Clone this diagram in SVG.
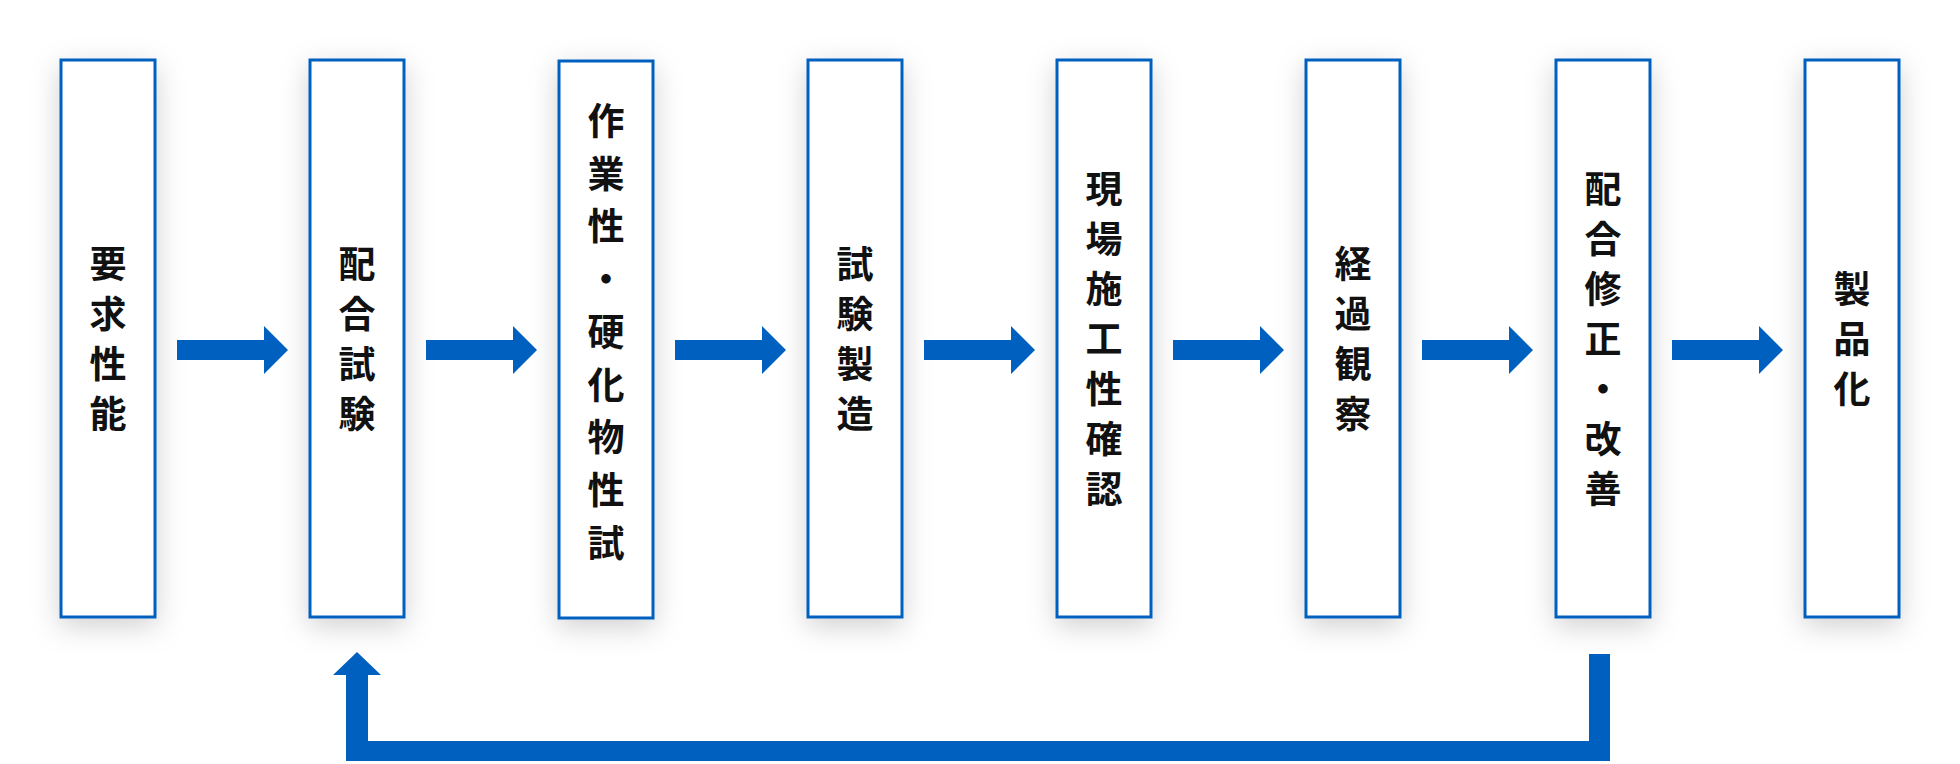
<svg xmlns="http://www.w3.org/2000/svg" width="1960" height="764" viewBox="0 0 1960 764">
<defs>
<filter id="sh" x="-50%" y="-20%" width="200%" height="140%"><feDropShadow dx="0" dy="8" stdDeviation="14" flood-color="#000" flood-opacity="0.18"/></filter>
<style>
.box{fill:#fff;stroke:#0060c0;stroke-width:3}
.t{font-family:"Noto Sans CJK JP","Noto Sans",sans-serif;font-size:37px;font-weight:700;fill:#111;text-anchor:middle;dominant-baseline:central}
.a{fill:#0060c0}
</style>
</defs>
<rect width="1960" height="764" fill="#fff"/>
<g id="n1"><rect class="box" filter="url(#sh)" x="61" y="60" width="94" height="557"/><text class="t"><tspan x="108" y="262">要</tspan><tspan x="108" y="312">求</tspan><tspan x="108" y="362">性</tspan><tspan x="108" y="412">能</tspan></text></g>
<g id="n2"><rect class="box" filter="url(#sh)" x="310" y="60" width="94" height="557"/><text class="t"><tspan x="357" y="262">配</tspan><tspan x="357" y="312">合</tspan><tspan x="357" y="362">試</tspan><tspan x="357" y="412">験</tspan></text></g>
<g id="n3"><rect class="box" filter="url(#sh)" x="559" y="61" width="94" height="557"/><text class="t"><tspan x="606" y="119">作</tspan><tspan x="606" y="172">業</tspan><tspan x="606" y="224">性</tspan><tspan x="606" y="277">・</tspan><tspan x="606" y="330">硬</tspan><tspan x="606" y="383">化</tspan><tspan x="606" y="435">物</tspan><tspan x="606" y="488">性</tspan><tspan x="606" y="541">試</tspan><tspan x="606" y="594" visibility="hidden"></tspan></text><text class="t" x="606" y="541" visibility="hidden">x</text></g>
<g id="n4"><rect class="box" filter="url(#sh)" x="808" y="60" width="94" height="557"/><text class="t"><tspan x="855" y="262">試</tspan><tspan x="855" y="312">験</tspan><tspan x="855" y="362">製</tspan><tspan x="855" y="412">造</tspan></text></g>
<g id="n5"><rect class="box" filter="url(#sh)" x="1057" y="60" width="94" height="557"/><text class="t"><tspan x="1104" y="187">現</tspan><tspan x="1104" y="237">場</tspan><tspan x="1104" y="287">施</tspan><tspan x="1104" y="337">工</tspan><tspan x="1104" y="387">性</tspan><tspan x="1104" y="437">確</tspan><tspan x="1104" y="487">認</tspan></text></g>
<g id="n6"><rect class="box" filter="url(#sh)" x="1306" y="60" width="94" height="557"/><text class="t"><tspan x="1353" y="262">経</tspan><tspan x="1353" y="312">過</tspan><tspan x="1353" y="362">観</tspan><tspan x="1353" y="412">察</tspan></text></g>
<g id="n7"><rect class="box" filter="url(#sh)" x="1556" y="60" width="94" height="557"/><text class="t"><tspan x="1603" y="187">配</tspan><tspan x="1603" y="237">合</tspan><tspan x="1603" y="287">修</tspan><tspan x="1603" y="337">正</tspan><tspan x="1603" y="387">・</tspan><tspan x="1603" y="437">改</tspan><tspan x="1603" y="487">善</tspan></text></g>
<g id="n8"><rect class="box" filter="url(#sh)" x="1805" y="60" width="94" height="557"/><text class="t"><tspan x="1852" y="287">製</tspan><tspan x="1852" y="337">品</tspan><tspan x="1852" y="387">化</tspan></text></g>
<g id="connectors" class="a">
<path d="M177 340H264V326L288 350L264 374V360H177Z"/>
<path d="M426 340H513V326L537 350L513 374V360H426Z"/>
<path d="M675 340H762V326L786 350L762 374V360H675Z"/>
<path d="M924 340H1011V326L1035 350L1011 374V360H924Z"/>
<path d="M1173 340H1260V326L1284 350L1260 374V360H1173Z"/>
<path d="M1422 340H1509V326L1533 350L1509 374V360H1422Z"/>
<path d="M1672 340H1759V326L1783 350L1759 374V360H1672Z"/>
<path d="M1589 654H1610V761H346V675H333L357 652L381 675H368V741H1589Z"/>
</g>
</svg>
